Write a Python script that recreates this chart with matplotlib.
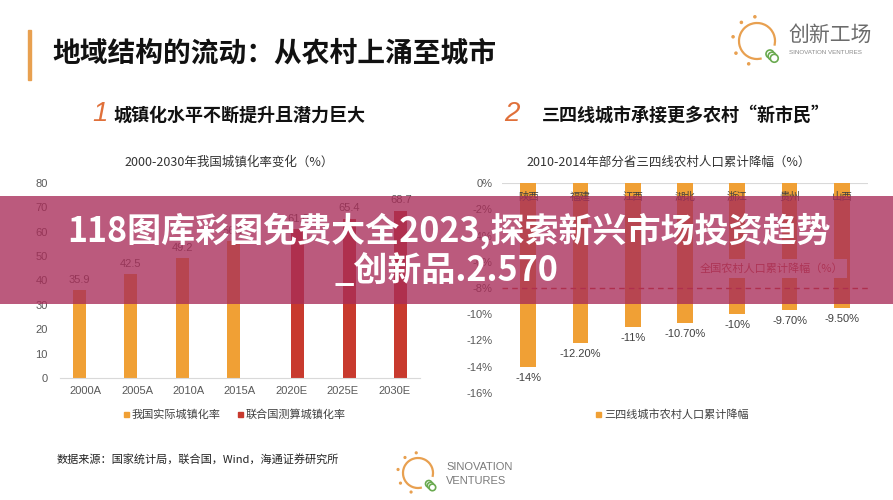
import numpy as np
import matplotlib.pyplot as plt
from matplotlib.patches import Rectangle, Arc, Circle

plt.rcParams['font.family'] = ['Noto Sans CJK SC', 'DejaVu Sans']
NUM = ['Liberation Sans', 'Noto Sans CJK SC']

# left chart: urbanisation rate 2000-2030 (%)
years = ['2000A', '2005A', '2010A', '2015A', '2020E', '2025E', '2030E']
actual_rate = [35.9, 42.5, 49.2, 56.1, np.nan, np.nan, np.nan]
un_rate = [np.nan, np.nan, np.nan, np.nan, 61.0, 65.4, 68.7]

# right chart: rural population decline 2010-2014 (%)
provinces = ['陕西', '福建', '江西', '湖北', '浙江', '贵州', '山西']
decline = [-14.0, -12.2, -11.0, -10.7, -10.0, -9.7, -9.5]
decline_labels = ['-14%', '-12.20%', '-11%', '-10.70%', '-10%', '-9.70%', '-9.50%']
national_decline = -8.0

ORANGE = '#F0A035'
RED = '#C83A2E'
GREY = '#595959'

W, H = 893, 500
fig = plt.figure(figsize=(W / 100, H / 100), dpi=100)
fig.patch.set_facecolor('white')


def box(x0, y0, x1, y1):
    # pixel box (top-left origin) -> figure fraction
    return [x0 / W, 1 - y1 / H, (x1 - x0) / W, (y1 - y0) / H]


# ---- left chart
ax1 = fig.add_axes(box(60, 183, 420, 378))
x = np.arange(len(years))
bw = 0.25
ax1.bar(x - bw / 2, actual_rate, bw, color=ORANGE, label='我国实际城镇化率')
ax1.bar(x + bw / 2, un_rate, bw, color=RED, label='联合国测算城镇化率')
for i in range(len(years)):
    if not np.isnan(actual_rate[i]):
        xi, v = x[i] - bw / 2, actual_rate[i]
    else:
        xi, v = x[i] + bw / 2, un_rate[i]
    ax1.annotate(f'{v:.1f}', (xi, v), xytext=(0, 4), textcoords='offset points',
                 ha='center', va='bottom', fontsize=8, color=GREY, family=NUM)
ax1.set_xlim(-0.5, len(years) - 0.5)
ax1.set_ylim(0, 80)
ax1.set_yticks(range(0, 81, 10))
ax1.set_xticks(x)
ax1.set_xticklabels(years)
for s in ['top', 'right', 'left']:
    ax1.spines[s].set_visible(False)
ax1.spines['bottom'].set_color('#D9D9D9')
ax1.tick_params(length=0, labelsize=8, colors=GREY)
ax1.tick_params(axis='y', pad=9)
ax1.tick_params(axis='x', pad=6)
for lab in ax1.get_xticklabels() + ax1.get_yticklabels():
    lab.set_family(NUM)

# ---- right chart
ax2 = fig.add_axes(box(502, 183, 868, 393))
xp = np.arange(len(provinces))
ax2.bar(xp, decline, 0.3, color=ORANGE, zorder=2)
ax2.axhline(0, color='#D9D9D9', lw=0.8, zorder=1)
ax2.axhline(national_decline, color=RED, lw=1, ls=(0, (4, 3)), zorder=3)
for i, p in enumerate(provinces):
    ax2.text(xp[i], -1.05, p, ha='center', va='center', fontsize=7.5, color='#404040', zorder=4)
    ax2.text(xp[i], decline[i] - 0.45, decline_labels[i], ha='center', va='top',
             fontsize=8, color='#404040', family=NUM)
ax2.text(4.66, -6.5, '全国农村人口累计降幅（%）', ha='center', va='center', fontsize=8,
         color='#C0504D', zorder=5,
         bbox=dict(boxstyle='square,pad=0.35', fc='white', ec='none'))
ax2.set_xlim(-0.5, len(provinces) - 0.5)
ax2.set_ylim(-16, 0)
ax2.set_yticks(range(-16, 1, 2))
ax2.set_yticklabels([f'{t}%' for t in range(-16, 1, 2)])
ax2.set_xticks([])
for s in ax2.spines.values():
    s.set_visible(False)
ax2.tick_params(length=0, labelsize=8, colors=GREY, pad=7)
for lab in ax2.get_yticklabels():
    lab.set_family(NUM)

# ---- overlay: titles, legends, logos, banner
ov = fig.add_axes([0, 0, 1, 1], zorder=10)
ov.set_xlim(0, W)
ov.set_ylim(H, 0)
ov.axis('off')
ov.patch.set_alpha(0)

ov.add_patch(Rectangle((28, 30), 3, 50, color='#E8A050'))
ov.text(52, 53, '地域结构的流动：从农村上涌至城市', fontsize=20, weight='bold',
        color='#111111', va='center')

ov.text(100, 114, '1', fontsize=20, style='italic', color='#E0703A', va='center', ha='center',
        family=NUM)
ov.text(113, 115, '城镇化水平不断提升且潜力巨大', fontsize=13, weight='bold', color='#111111',
        va='center')
ov.text(512, 114, '2', fontsize=20, style='italic', color='#E0703A', va='center', ha='center',
        family=NUM)
ov.text(542, 115, '三四线城市承接更多农村“新市民”', fontsize=13, weight='bold',
        color='#111111', va='center')

ov.text(229, 162, '2000-2030年我国城镇化率变化（%）', fontsize=9, color='#333333',
        ha='center', va='center')
ov.text(669, 162, '2010-2014年部分省三四线农村人口累计降幅（%）', fontsize=9,
        color='#333333', ha='center', va='center')

# legends
ov.add_patch(Rectangle((124, 412), 5, 5, color=ORANGE))
ov.text(132, 415, '我国实际城镇化率', fontsize=8, color='#404040', va='center')
ov.add_patch(Rectangle((238, 412), 5, 5, color=RED))
ov.text(246, 415, '联合国测算城镇化率', fontsize=8, color='#404040', va='center')
ov.add_patch(Rectangle((596, 412), 5, 5, color=ORANGE))
ov.text(604, 415, '三四线城市农村人口累计降幅', fontsize=8, color='#404040', va='center')

ov.text(57, 459, '数据来源：国家统计局，联合国，Wind，海通证券研究所', fontsize=8,
        color='#222222', va='center')


def bulb(cx, cy, r):
    ov.add_patch(Arc((cx, cy), 2 * r, 2 * r, theta1=75, theta2=375, color='#E8A050', lw=1.6))
    for k in range(3):
        ov.add_patch(Circle((cx + r * 0.72 + k * r * 0.12, cy + r * 0.72 + k * r * 0.12),
                            r * 0.22, fc='white', ec='#6AAA50', lw=1.2))
    for ang in [110, 150, 190, 230, 265]:
        a = np.deg2rad(ang)
        ov.add_patch(Circle((cx + 1.35 * r * np.cos(a), cy + 1.35 * r * np.sin(a)),
                            r * 0.06, color='#E8A050'))


bulb(757, 41, 18)
ov.text(788, 35, '创新工场', fontsize=15, color='#6B6B6B', va='center')
ov.text(789, 53, 'SINOVATION VENTURES', fontsize=4.5, color='#8A8A8A', va='center', family=NUM)

bulb(418, 473, 15)
ov.text(446, 467, 'SINOVATION', fontsize=8, color='#7A7A7A', va='center', family=NUM)
ov.text(446, 481, 'VENTURES', fontsize=8, color='#7A7A7A', va='center', family=NUM)

# banner
ov.add_patch(Rectangle((0, 196), W, 108, fc='#A82C58', alpha=0.78, ec='none', zorder=20))
ov.text(449, 231, '118图库彩图免费大全2023,探索新兴市场投资趋势', fontsize=24.5, weight='black',
        color='white', ha='center', va='center', zorder=21)
ov.text(446, 271, '_创新品.2.570', fontsize=24.5, weight='black', color='white',
        ha='center', va='center', zorder=21)

fig.savefig('out.png', dpi=100)
